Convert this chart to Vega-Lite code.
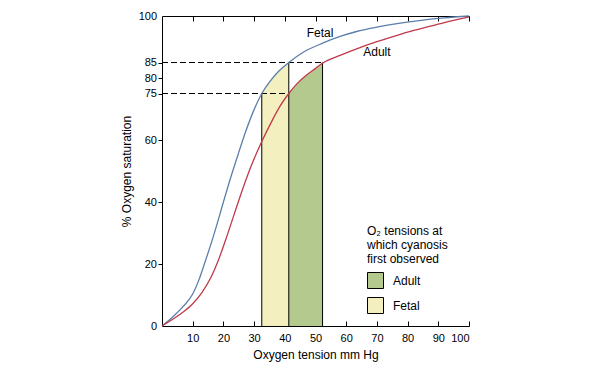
{
  "$schema": "https://vega.github.io/schema/vega-lite/v6.json",
  "width": 307,
  "height": 310,
  "autosize": "none",
  "padding": {"left": 162, "top": 16, "right": 138, "bottom": 48},
  "background": "white",
  "config": {
    "view": {"stroke": null},
    "font": "Liberation Sans",
    "axis": {
      "grid": false,
      "domainColor": "black",
      "tickColor": "black",
      "labelColor": "black",
      "titleColor": "black",
      "labelFontSize": 11,
      "titleFontSize": 12,
      "titleFontWeight": "normal",
      "labelFont": "Liberation Sans",
      "titleFont": "Liberation Sans"
    }
  },
  "datasets": {
    "curves": [
      {"curve": "Fetal", "x": 0, "y": 0},
      {"curve": "Fetal", "x": 4, "y": 3.4},
      {"curve": "Fetal", "x": 7, "y": 6.4},
      {"curve": "Fetal", "x": 10, "y": 10.3},
      {"curve": "Fetal", "x": 12, "y": 14.8},
      {"curve": "Fetal", "x": 13.8, "y": 20},
      {"curve": "Fetal", "x": 16.5, "y": 28.2},
      {"curve": "Fetal", "x": 18.5, "y": 34.8},
      {"curve": "Fetal", "x": 20, "y": 40},
      {"curve": "Fetal", "x": 22.1, "y": 47},
      {"curve": "Fetal", "x": 25, "y": 56},
      {"curve": "Fetal", "x": 27, "y": 62},
      {"curve": "Fetal", "x": 30, "y": 69.8},
      {"curve": "Fetal", "x": 32.5, "y": 75},
      {"curve": "Fetal", "x": 35, "y": 78.7},
      {"curve": "Fetal", "x": 38, "y": 82.2},
      {"curve": "Fetal", "x": 41.3, "y": 85},
      {"curve": "Fetal", "x": 46, "y": 88.3},
      {"curve": "Fetal", "x": 52.5, "y": 91.3},
      {"curve": "Fetal", "x": 58, "y": 93.4},
      {"curve": "Fetal", "x": 63.4, "y": 95},
      {"curve": "Fetal", "x": 70, "y": 96.4},
      {"curve": "Fetal", "x": 75, "y": 97.3},
      {"curve": "Fetal", "x": 85, "y": 98.7},
      {"curve": "Fetal", "x": 92, "y": 99.4},
      {"curve": "Fetal", "x": 100, "y": 100},
      {"curve": "Adult", "x": 0, "y": 0},
      {"curve": "Adult", "x": 4, "y": 2.5},
      {"curve": "Adult", "x": 7, "y": 4.6},
      {"curve": "Adult", "x": 10, "y": 7.2},
      {"curve": "Adult", "x": 13, "y": 10.8},
      {"curve": "Adult", "x": 16, "y": 15.8},
      {"curve": "Adult", "x": 18.2, "y": 20.8},
      {"curve": "Adult", "x": 20.8, "y": 28},
      {"curve": "Adult", "x": 23.5, "y": 36},
      {"curve": "Adult", "x": 26.4, "y": 44.5},
      {"curve": "Adult", "x": 29, "y": 51.5},
      {"curve": "Adult", "x": 32.5, "y": 59.5},
      {"curve": "Adult", "x": 36, "y": 66.5},
      {"curve": "Adult", "x": 38.5, "y": 71},
      {"curve": "Adult", "x": 41.3, "y": 75},
      {"curve": "Adult", "x": 44, "y": 78.2},
      {"curve": "Adult", "x": 47, "y": 80.9},
      {"curve": "Adult", "x": 50, "y": 83.1},
      {"curve": "Adult", "x": 52.3, "y": 84.8},
      {"curve": "Adult", "x": 58, "y": 87.3},
      {"curve": "Adult", "x": 63.4, "y": 89.4},
      {"curve": "Adult", "x": 70, "y": 91.7},
      {"curve": "Adult", "x": 75, "y": 93.3},
      {"curve": "Adult", "x": 80, "y": 94.8},
      {"curve": "Adult", "x": 85, "y": 96.1},
      {"curve": "Adult", "x": 92, "y": 97.9},
      {"curve": "Adult", "x": 100, "y": 99.7}
    ],
    "regions": [
      {"group": "Fetal", "x": 32.5, "y": 75},
      {"group": "Fetal", "x": 35, "y": 78.7},
      {"group": "Fetal", "x": 38, "y": 82.2},
      {"group": "Fetal", "x": 41.3, "y": 85},
      {"group": "Adult", "x": 41.3, "y": 75},
      {"group": "Adult", "x": 44, "y": 78.2},
      {"group": "Adult", "x": 47, "y": 80.9},
      {"group": "Adult", "x": 50, "y": 83.1},
      {"group": "Adult", "x": 52.3, "y": 84.8}
    ],
    "edges": [
      {"x": 32.5, "y": 0, "y2": 75},
      {"x": 41.3, "y": 0, "y2": 85},
      {"x": 52.3, "y": 0, "y2": 85}
    ],
    "dashes": [
      {"x": 0, "x2": 52.3, "y": 85},
      {"x": 0, "x2": 41.3, "y": 75}
    ],
    "labels": [
      {"label": "Fetal", "x": 51.5, "y": 94.5},
      {"label": "Adult", "x": 70, "y": 88.4}
    ]
  },
  "resolve": {"axis": {"x": "independent", "y": "independent"}},
  "layer": [
    {
      "data": {"name": "regions"},
      "mark": {"type": "area", "opacity": 1},
      "encoding": {
        "x": {
          "field": "x", "type": "quantitative",
          "scale": {"domain": [0, 100], "nice": false},
          "axis": {
            "orient": "bottom",
            "values": [10, 20, 30, 40, 50, 60, 70, 80, 90, 100],
            "title": "Oxygen tension mm Hg",
            "tickSize": -5,
            "labelPadding": 11,
            "titlePadding": 6
          }
        },
        "y": {
          "field": "y", "type": "quantitative", "stack": null,
          "scale": {"domain": [0, 100], "nice": false},
          "axis": {
            "orient": "left",
            "values": [0, 20, 40, 60, 75, 80, 85, 100],
            "title": "% Oxygen saturation",
            "tickSize": 4,
            "tickOpacity": {"condition": {"test": "datum.value === 0 || datum.value === 100", "value": 0}, "value": 1},
            "labelPadding": 1.5,
            "titlePadding": 5
          }
        },
        "color": {
          "field": "group", "type": "nominal",
          "scale": {"domain": ["Adult", "Fetal"], "range": ["#b4c98d", "#f3efbe"]},
          "legend": {
            "orient": "none",
            "legendX": 205,
            "legendY": 210,
            "title": ["O₂ tensions at", "which cyanosis", "first observed"],
            "titleFontSize": 12,
            "titleFontWeight": "normal",
            "titleColor": "black",
            "titleFont": "Liberation Sans",
            "titleLineHeight": 14,
            "titlePadding": 6,
            "labelFontSize": 12,
            "labelFont": "Liberation Sans",
            "labelColor": "black",
            "symbolType": "square",
            "symbolSize": 256,
            "symbolOpacity": 1,
            "symbolStrokeColor": "black",
            "symbolStrokeWidth": 1,
            "rowPadding": 4,
            "labelOffset": 9
          }
        }
      }
    },
    {
      "data": {"name": "edges"},
      "mark": {"type": "rule", "color": "black", "strokeWidth": 1},
      "encoding": {
        "x": {"field": "x", "type": "quantitative", "axis": null},
        "y": {"field": "y", "type": "quantitative", "axis": null},
        "y2": {"field": "y2"}
      }
    },
    {
      "data": {"name": "dashes"},
      "mark": {"type": "rule", "color": "black", "strokeWidth": 1, "strokeDash": [6, 3]},
      "encoding": {
        "x": {"field": "x", "type": "quantitative", "axis": null},
        "x2": {"field": "x2"},
        "y": {"field": "y", "type": "quantitative", "axis": null}
      }
    },
    {
      "data": {"name": "curves"},
      "mark": {"type": "line", "strokeWidth": 1.3, "interpolate": "monotone"},
      "encoding": {
        "x": {
          "field": "x", "type": "quantitative",
          "axis": {
            "orient": "top",
            "values": [10, 20, 30, 40, 50, 60, 70, 80, 90, 100],
            "labels": false,
            "title": null,
            "tickSize": -5
          }
        },
        "y": {"field": "y", "type": "quantitative", "axis": null},
        "stroke": {
          "field": "curve", "type": "nominal",
          "scale": {"domain": ["Fetal", "Adult"], "range": ["#5b7fab", "#c0394a"]},
          "legend": null
        },
        "order": {"field": "x", "type": "quantitative"}
      }
    },
    {
      "data": {"name": "labels"},
      "mark": {"type": "text", "fontSize": 12, "font": "Liberation Sans", "color": "black"},
      "encoding": {
        "x": {"field": "x", "type": "quantitative", "axis": null},
        "y": {"field": "y", "type": "quantitative", "axis": null},
        "text": {"field": "label"}
      }
    }
  ]
}
